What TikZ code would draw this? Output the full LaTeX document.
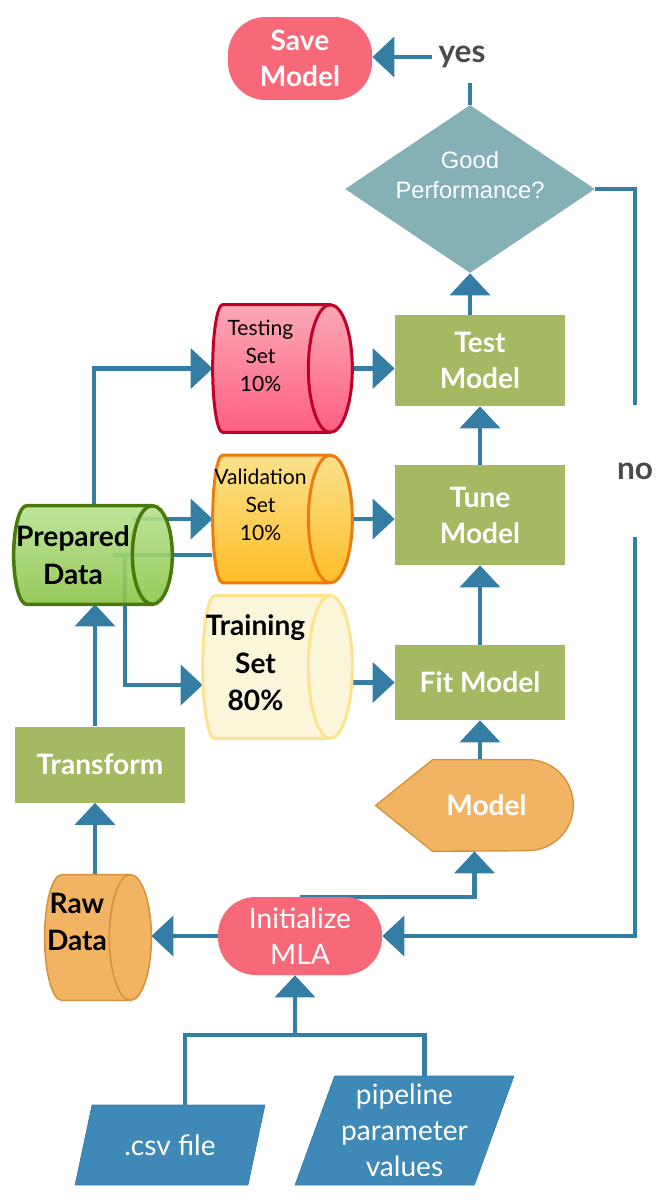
\documentclass[tikz,border=0pt]{standalone}
\usepackage{fontspec}
\setmainfont{Lato}
\newfontfamily\arialfont{Liberation Sans}
\usetikzlibrary{arrows.meta,shapes.geometric,calc}

\definecolor{linkblue}{RGB}{52,125,165}
\definecolor{taskgreen}{RGB}{165,184,98}
\definecolor{pillred}{RGB}{247,104,120}
\definecolor{askteal}{RGB}{133,176,181}
\definecolor{modelorange}{RGB}{242,180,98}
\definecolor{modeledge}{RGB}{214,146,58}
\definecolor{prepedge}{RGB}{74,122,12}
\definecolor{preptop}{RGB}{183,226,143}
\definecolor{prepbot}{RGB}{139,196,72}
\definecolor{testedge}{RGB}{192,0,40}
\definecolor{testtop}{RGB}{250,168,182}
\definecolor{testbot}{RGB}{255,95,130}
\definecolor{valedge}{RGB}{238,122,16}
\definecolor{valtop}{RGB}{250,225,140}
\definecolor{valbot}{RGB}{255,190,40}
\definecolor{trainfill}{RGB}{251,245,218}
\definecolor{trainedge}{RGB}{255,226,140}
\definecolor{inblue}{RGB}{62,137,184}
\definecolor{notegray}{RGB}{74,74,74}

\pgfdeclarelayer{lines}
\pgfdeclarelayer{shapes}
\pgfsetlayers{lines,shapes,main}

\newcommand{\flowfont}{\fontsize{16}{20.5}\selectfont}
\newcommand{\smallflowfont}{\fontsize{12}{16}\selectfont}
% #1 node, #2 left bulge, #3 right radius, #4 edge, #5 fill
\newcommand{\drum}[5]{%
  \path[#4,#5] let \p1=(#1.north west), \p2=(#1.south east), \n1={(\y1-\y2)/2} in
    (\x1+#2,\y1) -- (\x2+#3,\y1) arc[start angle=90,end angle=-90,x radius=#3,y radius=\n1]
    -- (\x1+#2,\y2) arc[start angle=270,end angle=90,x radius=#2,y radius=\n1] -- cycle;
  \path[#4] let \p1=(#1.north west), \p2=(#1.south east), \n1={(\y1-\y2)/2} in
    (\x2+#3,\y1) arc[start angle=90,end angle=270,x radius=#3,y radius=\n1];
}

\tikzset{
  flow/.style={draw=linkblue, line width=2.3pt, -{Triangle[length=0.44cm,width=0.8cm]}},
  link/.style={draw=linkblue, line width=2.3pt},
  task/.style={rectangle, fill=taskgreen, text=white, font=\flowfont\bfseries, align=center, minimum width=3.4cm, inner sep=0},
  pill/.style={rectangle, rounded corners=0.75cm, fill=pillred, text=white, align=center, inner sep=0},
  store/.style={inner sep=0},
  storetext/.style={text=black, align=center, inner sep=0},
  slant/.style={trapezium, trapezium stretches=true, fill=inblue, draw=inblue!90!black, text=white, font=\flowfont, align=center, inner sep=0},
  note/.style={text=notegray, font=\fontsize{18}{22}\selectfont\bfseries}
}

\begin{document}
\begin{tikzpicture}[x=0.02cm,y=-0.02cm]
\useasboundingbox (0,0) rectangle (664,1200);

\node[pill, minimum width=2.88cm, minimum height=1.66cm, font=\flowfont\bfseries] (save) at (300,58.5) {Save\\Model};
\node[note] (yes) at (462,57) {yes};
\node[diamond, fill=askteal, aspect=1.49, minimum width=5cm, minimum height=3.36cm, inner sep=0,
  label={[text=white, font=\arialfont\fontsize{13.5}{17}\selectfont, align=center, yshift=0.28cm]center:Good\\Performance?}] (perf) at (470,189) {};
\node[task, minimum height=1.82cm] (testm) at (480,360.5) {Test\\Model};
\node[task, minimum height=2cm] (tunem) at (480,515) {Tune\\Model};
\node[task, minimum height=1.5cm] (fitm) at (480,682.5) {Fit Model};
\node[note] (no) at (635,471) {no};
\node[minimum width=3.94cm, minimum height=1.82cm, inner sep=0,
  label={[text=white, font=\flowfont\bfseries, xshift=0.24cm]center:Model}] (model) at (474.5,805.5) {};
\node[pill, minimum width=3.28cm, minimum height=1.56cm, font=\flowfont] (init) at (300,936) {Initialize\\MLA};
\node[task, minimum height=1.52cm] (transform) at (100,764.5) {Transform};

\node[store, minimum width=1.9cm, minimum height=2.54cm,
  label={[storetext, font=\smallflowfont, yshift=0.25cm]center:Testing\\Set\\10\%}] (testset) at (260.5,368.5) {};
\node[store, minimum width=1.9cm, minimum height=2.54cm,
  label={[storetext, font=\smallflowfont, yshift=0.28cm]center:Validation\\Set\\10\%}] (valset) at (260.5,519) {};
\node[store, minimum width=2.1cm, minimum height=2.84cm,
  label={[storetext, font=\fontsize{16}{21.3}\selectfont\bfseries, yshift=0.08cm]center:Training\\Set\\80\%}] (trainset) at (255.5,667) {};
\node[store, minimum width=2.36cm, minimum height=1.96cm,
  label={[storetext, font=\fontsize{16}{21.5}\selectfont\bfseries]center:Prepared\\Data}] (prep) at (73,555) {};
\node[store, minimum width=1.28cm, minimum height=2.5cm,
  label={[storetext, font=\fontsize{16}{21.5}\selectfont\bfseries, yshift=0.31cm]center:Raw\\Data}] (raw) at (77,937.5) {};

\node[slant, trapezium left angle=64.6, trapezium right angle=115.4, minimum width=3.8cm, minimum height=1.6cm] (csv) at (170,1145) {.csv file};
\node[slant, trapezium left angle=68.9, trapezium right angle=111.1, minimum width=4.38cm, minimum height=2.18cm] (pipe) at (404.5,1130.5) {pipeline\\parameter\\values};

\coordinate (testset-out) at ($(testset.east)+(0.88cm,0)$);
\coordinate (valset-out) at ($(valset.east)+(0.88cm,0)$);
\coordinate (trainset-out) at ($(trainset.east)+(0.88cm,0)$);
\coordinate (prep-out) at ($(prep.east)+(0.8cm,0)$);
\coordinate (raw-out) at ($(raw.east)+(0.84cm,0)$);
\coordinate (fork) at (295,1035);

\begin{pgfonlayer}{shapes}
\path[draw=modeledge, line width=0.8pt, fill=modelorange] ([xshift=1.14cm]model.north west) -- ([xshift=-0.91cm]model.north east)
  arc[start angle=90,end angle=-90,radius=0.91cm] -- ([xshift=1.14cm]model.south west) -- (model.west) -- cycle;
\drum{testset}{0.2cm}{0.44cm}{draw=testedge, line width=1.7pt}{top color=testtop, bottom color=testbot}
\drum{valset}{0.2cm}{0.44cm}{draw=valedge, line width=1.7pt}{top color=valtop, bottom color=valbot}
\drum{trainset}{0.24cm}{0.44cm}{draw=trainedge, line width=1.7pt}{fill=trainfill}
\drum{prep}{0.26cm}{0.4cm}{draw=prepedge, line width=2pt}{top color=preptop, bottom color=prepbot, fill opacity=0.9}
\drum{raw}{0.34cm}{0.42cm}{draw=modeledge, line width=0.9pt}{fill=modelorange}
\end{pgfonlayer}

\begin{pgfonlayer}{lines}
\draw[link, shorten >=0.18cm] (perf.north) -- (perf.north |- yes.south);
\draw[flow] (yes.west) -- (yes.west -| save.east);
\draw[link, shorten >=1.32cm] (perf.east) -| (no.center);
\draw[flow, shorten <=1.32cm] (no.center) |- (init.east);
\draw[flow] (perf.south |- testm.north) -- (perf.south);
\draw[flow] (tunem.north) -- (testm.south);
\draw[flow] (fitm.north) -- (tunem.south);
\draw[flow] (fitm.south |- model.north) -- (fitm.south);
\draw[flow] (init.north) -| (model.south);
\draw[flow] (init.west) -- (init.west -| raw-out);
\draw[flow] ([xshift=-0.1cm]transform.south |- raw.north) -- ([xshift=-0.1cm]transform.south);
\draw[flow] ([xshift=-0.1cm]transform.north) -- ([xshift=-0.1cm]transform.north |- prep.south);
\draw[flow] ([xshift=0.42cm]prep.north) |- (testset.west);
\draw[flow] (valset.west -| prep.east) -- (valset.west);
\draw[flow] ([xshift=1.04cm]prep.center) |- ([yshift=-0.36cm]trainset.west);
\draw[link] ([xshift=0.8cm]prep.center) -- ([xshift=0.8cm]prep.center -| prep-out);
\draw[flow] (testset-out) -- (testset-out -| testm.west);
\draw[flow] (valset-out) -- (valset-out -| tunem.west);
\draw[flow] (fitm.west -| trainset-out) -- (fitm.west);
\draw[link] ([xshift=0.3cm]csv.north) |- (fork) -| ([xshift=0.4cm]pipe.north);
\draw[flow] (fork) -- (fork |- init.south);
\end{pgfonlayer}

\end{tikzpicture}
\end{document}
